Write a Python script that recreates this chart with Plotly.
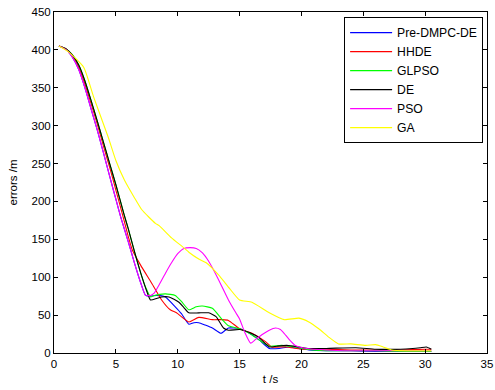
import plotly.graph_objects as go

# ---- data ----
t_blue = [0.4, 1.0, 1.5, 2.0, 2.5, 3.0, 3.5, 4.0, 4.6, 5.0, 5.4, 6.0, 6.5, 7.0, 7.4, 7.8, 8.3, 9.0, 9.8, 10.3, 10.9, 11.3, 11.7, 12.2, 12.8, 13.5, 14.1, 15.0, 15.8, 16.6, 17.4, 18.2, 19.0, 19.8, 20.6, 22.0, 24.0, 26.0, 28.0, 30.0, 30.5]
v_blue = [405, 400, 390, 374, 350, 322, 294, 264, 227, 203, 179, 147, 119, 93, 76, 75, 76, 74, 61, 52, 38, 40, 40, 37, 33, 26, 33, 32, 26, 17, 6, 6, 8, 6, 4, 3, 3, 2, 2, 2, 2]

t_red = [0.4, 1.0, 1.5, 2.0, 2.5, 3.0, 3.5, 4.0, 4.5, 5.0, 5.5, 6.0, 6.33, 7.0, 7.9, 8.7, 9.4, 9.9, 10.9, 11.7, 12.8, 13.6, 14.1, 15.0, 16.0, 17.1, 17.6, 18.8, 20.0, 22.0, 24.0, 26.0, 28.0, 30.0, 30.5]
v_red = [405, 401, 392, 377, 355, 329, 302, 273, 245, 215, 185, 154, 136, 116, 92, 70, 57, 53, 41, 47, 44, 44, 43, 32, 26, 15, 8, 8, 5, 5, 4, 4, 4, 5, 5]

t_green = [0.4, 1.0, 1.5, 2.0, 2.5, 3.0, 3.5, 4.0, 4.5, 5.0, 5.66, 6.0, 6.5, 7.0, 7.4, 7.8, 8.1, 9.0, 9.8, 10.3, 10.9, 11.5, 12.0, 12.8, 13.6, 14.1, 15.0, 15.8, 16.6, 17.4, 18.4, 19.5, 20.4, 22.0, 24.0, 26.0, 28.0, 30.0, 30.5]
v_green = [405, 401, 393, 380, 359, 333, 306, 278, 250, 222, 183, 164, 134, 106, 87, 74, 76, 78, 76, 68, 57, 61, 62, 59, 44, 36, 32, 26, 17, 9, 10, 8, 5, 3, 3, 3, 2, 2, 2]

t_black = [0.4, 1.0, 1.5, 2.0, 2.5, 3.0, 3.5, 4.0, 4.5, 5.0, 5.66, 6.0, 6.5, 7.0, 7.4, 7.8, 8.3, 8.7, 9.3, 9.7, 10.1, 10.5, 10.9, 11.7, 12.5, 13.1, 13.7, 14.1, 15.0, 15.8, 16.6, 17.4, 18.0, 18.8, 19.8, 20.6, 22.0, 24.4, 26.0, 28.0, 29.0, 29.6, 30.1, 30.5]
v_black = [405, 401, 393, 380, 359, 333, 306, 278, 250, 222, 183, 164, 134, 106, 86, 70, 72, 74, 74, 71, 67, 60, 53, 53, 53, 48, 33, 30, 31, 27, 20, 8, 9, 10, 8, 6, 6, 7, 5, 5, 6, 7, 8, 5]

t_pso = [0.4, 1.0, 1.5, 2.0, 2.5, 3.0, 3.5, 4.0, 4.6, 5.0, 5.4, 6.0, 6.5, 7.0, 7.4, 7.8, 8.1, 8.5, 9.0, 9.5, 10.0, 10.5, 11.0, 11.5, 12.0, 12.5, 13.2, 14.1, 14.7, 15.0, 15.4, 15.9, 16.3, 16.8, 17.4, 17.9, 18.3, 18.6, 19.0, 19.5, 20.4, 22.0, 24.0, 26.0, 28.0, 30.0, 30.5]
v_pso = [405, 400, 390, 374, 350, 322, 294, 264, 227, 203, 179, 147, 119, 93, 76, 76, 79, 90, 105, 119, 131, 138, 139, 138, 132, 121, 100, 70, 53, 45, 28, 13, 18, 24, 30, 33, 31, 26, 18, 10, 6, 4, 3, 3, 3, 3, 3]

t_ga = [0.4, 1.2, 2.4, 3.2, 4.4, 5.0, 5.7, 6.5, 7.1, 8.2, 8.5, 9.5, 10.4, 10.9, 11.7, 12.3, 13.3, 14.2, 15.0, 16.0, 17.4, 18.6, 19.8, 20.6, 21.4, 22.2, 23.0, 24.0, 25.2, 26.0, 26.6, 27.3, 28.5, 30.0, 30.5]
v_ga = [405, 397, 377, 338, 284, 254, 228, 205, 189, 171, 168, 152, 140, 133, 124, 119, 103, 85, 70, 67, 53, 44, 46, 41, 32, 21, 12, 12, 10, 11, 8, 4, 3, 3, 3]

names = ["Pre-DMPC-DE", "HHDE", "GLPSO", "DE", "PSO", "GA"]
colors = ["#0000ff", "#ff0000", "#00ff00", "#000000", "#ff00ff", "#ffff00"]
xs = [t_blue, t_red, t_green, t_black, t_pso, t_ga]
ys = [v_blue, v_red, v_green, v_black, v_pso, v_ga]

x_ticks = [0, 5, 10, 15, 20, 25, 30, 35]
y_ticks = [0, 50, 100, 150, 200, 250, 300, 350, 400, 450]

fig = go.Figure()
for i in range(len(names)):
    fig.add_trace(go.Scatter(x=xs[i], y=ys[i], mode="lines", name=names[i],
                             line=dict(color=colors[i], width=1.1, shape="spline", smoothing=0.5)))

axis_common = dict(showgrid=False, zeroline=False, showline=True, linecolor="black",
                   linewidth=1, mirror="ticks", ticks="inside", ticklen=4,
                   tickcolor="black", tickfont=dict(size=11.5, color="black"),
                   automargin=False)

fig.update_layout(
    width=495, height=390,
    margin=dict(l=54, r=8, t=12, b=37, autoexpand=False),
    paper_bgcolor="white", plot_bgcolor="white",
    font=dict(family="Liberation Sans, Arial, sans-serif", color="black"),
    xaxis=dict(range=[0, 35], tickvals=x_ticks, ticktext=[str(v) for v in x_ticks],
               title=dict(text="t /s", font=dict(size=11.5), standoff=6), **axis_common),
    yaxis=dict(range=[0, 450], tickvals=y_ticks, ticktext=[str(v) for v in y_ticks],
               title=dict(text="errors /m", font=dict(size=11.5), standoff=11), **axis_common),
    legend=dict(x=0.991, y=0.985, xanchor="right", yanchor="top",
                bgcolor="white", bordercolor="black", borderwidth=1,
                font=dict(size=12.2), tracegroupgap=0, itemwidth=42),
    showlegend=True,
)

# remove the default 8px page margin so the figure fills the window exactly
fig.write_html("out.html", config={"displayModeBar": False},
               post_script="document.body.style.margin='0';document.body.style.overflow='hidden';")
